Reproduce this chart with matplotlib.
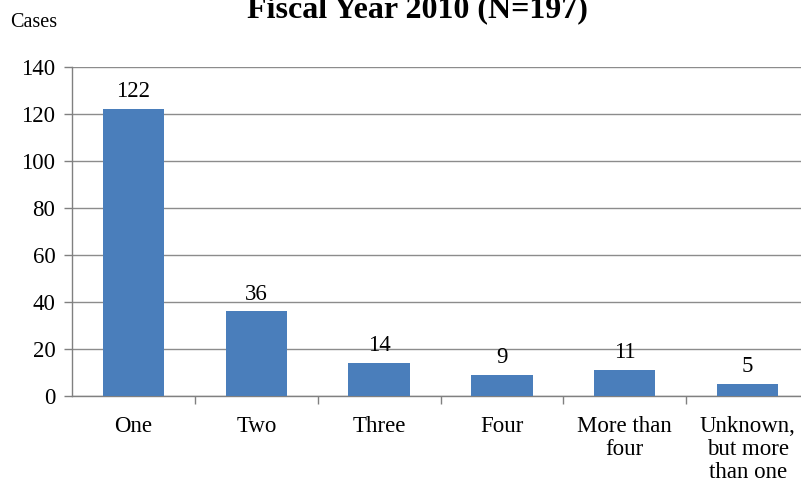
import numpy as np
import matplotlib
matplotlib.use("Agg")
import matplotlib.pyplot as plt

categories = ["One", "Two", "Three", "Four", "More than\nfour", "Unknown,\nbut more\nthan one"]
cases = [122, 36, 14, 9, 11, 5]
y_ticks = [0, 20, 40, 60, 80, 100, 120, 140]

plt.rcParams["font.family"] = ["Liberation Serif", "DejaVu Serif"]

fig = plt.figure(figsize=(8.01, 4.83), dpi=100)
ax = fig.add_axes([0.09, 0.18, 0.92, 0.681])

x = np.arange(len(categories))
ax.bar(x, cases, width=0.5, color="#4a7ebb", zorder=3)
for xi, v in zip(x, cases):
    ax.annotate(str(v), (xi, v), xytext=(0, 5), textcoords="offset points",
                ha="center", va="bottom", fontsize=16.5)

ax.set_xlim(-0.5, 5.5)
ax.set_ylim(0, 140)
ax.set_yticks(y_ticks)
ax.tick_params(axis="y", labelsize=16.5, length=6, color="#808080", width=1, pad=6)
ax.grid(axis="y", color="#8c8c8c", lw=1, zorder=0)

ax.set_xticks(x)
ax.set_xticklabels(categories, fontsize=16.5, linespacing=1.15)
ax.tick_params(axis="x", length=0, pad=14)
ax.set_xticks(np.arange(0.5, 5.5, 1), minor=True)
ax.tick_params(axis="x", which="minor", length=6, color="#808080", width=1)

for s in ["top", "right"]:
    ax.spines[s].set_visible(False)
for s in ["left", "bottom"]:
    ax.spines[s].set_color("#808080")
    ax.spines[s].set_linewidth(1)

fig.text(0.521, 0.965, "Fiscal Year 2010 (N=197)", ha="center", va="baseline",
         fontsize=23, fontweight="bold")
fig.text(0.013, 0.954, "Cases", ha="left", va="center", fontsize=14.5)

plt.savefig("out.png", dpi=100)
